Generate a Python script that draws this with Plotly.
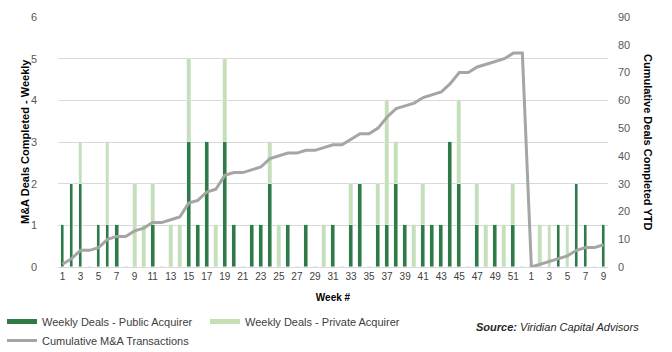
import plotly.graph_objects as go

weeks = [str(i) for i in range(1, 53)] + [str(i) for i in range(1, 10)]
public = [1,2,2,0,1,1,1,0,0,0,1,0,0,0,3,1,3,0,3,1,0,1,1,2,0,1,0,1,0,0,1,0,1,2,0,1,1,2,1,0,1,1,1,3,2,0,1,0,1,0,1,0,
          0,0,0,1,0,2,1,0,1]
private = [0,0,1,0,0,2,0,0,2,1,1,0,1,1,2,0,0,1,2,0,0,0,0,1,1,0,0,0,0,1,0,0,1,0,0,1,3,1,0,1,1,0,0,0,2,0,1,1,0,1,1,0,
           0,1,1,0,1,0,0,0,0]
cumulative = [1,3,6,6,7,10,11,11,13,14,16,16,17,18,23,24,27,28,33,34,34,35,36,39,40,41,41,42,42,43,44,44,46,48,48,50,
              54,57,58,59,61,62,63,66,70,70,72,73,74,75,77,77,
              0,1,2,3,4,6,7,7,8]

x = list(range(len(weeks)))
DARK = "#2F7B45"
LIGHT = "#C5E0B4"
GRAY = "#A5A5A5"
FONT = "Liberation Sans, Arial, sans-serif"

fig = go.Figure()
fig.add_trace(go.Bar(x=x, y=public, marker_color=DARK, width=0.42, showlegend=False,
                     name="Weekly Deals - Public Acquirer"))
fig.add_trace(go.Bar(x=x, y=private, marker_color=LIGHT, width=0.42, showlegend=False,
                     name="Weekly Deals - Private Acquirer"))
fig.add_trace(go.Scatter(x=x, y=cumulative, yaxis="y2", mode="lines",
                         line=dict(color=GRAY, width=3), showlegend=False,
                         name="Cumulative M&A Transactions"))
# legend entries
fig.add_trace(go.Scatter(x=[None], y=[None], mode="lines", line=dict(color=DARK, width=5),
                         name="Weekly Deals - Public Acquirer", legend="legend"))
fig.add_trace(go.Scatter(x=[None], y=[None], mode="lines", line=dict(color=LIGHT, width=5),
                         name="Weekly Deals - Private Acquirer", legend="legend"))
fig.add_trace(go.Scatter(x=[None], y=[None], mode="lines", line=dict(color=GRAY, width=3),
                         name="Cumulative M&A Transactions", legend="legend2"))

fig.update_layout(
    width=672, height=352,
    margin=dict(l=58, r=64, t=17, b=85, autoexpand=False),
    barmode="stack", bargap=0,
    plot_bgcolor="white", paper_bgcolor="white",
    font=dict(family=FONT, size=10, color="#595959"),
    xaxis=dict(range=[-0.5, len(weeks) - 0.5], tickvals=x[::2], ticktext=weeks[::2],
               showgrid=False, showline=True, linecolor="#D9D9D9", ticks="",
               tickfont=dict(size=10, color="#404040"),
               title=dict(text="<b>Week #</b>", font=dict(size=10, color="black"), standoff=12)),
    yaxis=dict(range=[0, 6], dtick=1, showgrid=True, gridcolor="#D9D9D9", zeroline=False,
               tickfont=dict(size=11, color="#595959"), ticklen=0, ticklabelstandoff=20),
    yaxis2=dict(range=[0, 90], dtick=10, overlaying="y", side="right", showgrid=False,
                zeroline=False, tickfont=dict(size=11, color="#595959"), ticklabelstandoff=9),
    legend=dict(orientation="h", x=2 / 672, y=1 - 307 / 352, xref="container", yref="container",
                xanchor="left", yanchor="top", traceorder="normal",
                font=dict(size=11, color="#404040"), entrywidth=158, itemwidth=30,
                bgcolor="rgba(0,0,0,0)"),
    legend2=dict(orientation="h", x=2 / 672, y=1 - 326 / 352, xref="container", yref="container",
                 xanchor="left", yanchor="top",
                 font=dict(size=11, color="#404040"), itemwidth=30,
                 bgcolor="rgba(0,0,0,0)"),
    annotations=[
        dict(text="<b>M&A Deals Completed - Weekly</b>", xref="paper", yref="paper",
             x=(25 - 58) / 550, y=0.5, xanchor="center", yanchor="middle", textangle=-90,
             showarrow=False, font=dict(size=11, color="black", family=FONT)),
        dict(text="<b>Cumulative Deals Completed YTD</b>", xref="paper", yref="paper",
             x=(648 - 58) / 550, y=0.5, xanchor="center", yanchor="middle", textangle=90,
             showarrow=False, font=dict(size=11, color="black", family=FONT)),
        dict(text="<b><i>Source:</i></b><i> Viridian Capital Advisors</i>", xref="paper",
             yref="paper", x=(641 - 58) / 550, y=(267 - 327) / 250, xanchor="right",
             yanchor="middle", showarrow=False,
             font=dict(size=11, color="#262626", family=FONT)),
    ],
)

fig.write_html("out.html")
